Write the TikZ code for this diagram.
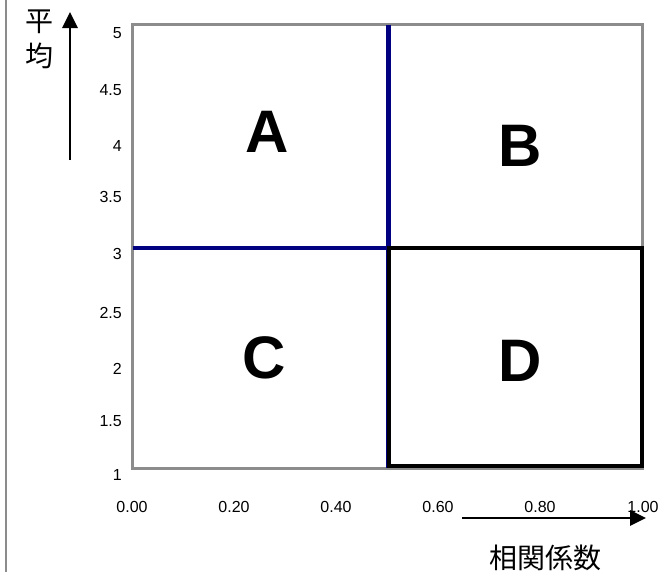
\documentclass[tikz,border=0pt]{standalone}
\usepackage{fontspec}
\setmainfont{Liberation Sans}
\newfontfamily\jafont{Noto Sans CJK JP}
\usepackage{tikz}
\usetikzlibrary{arrows.meta}
\definecolor{frame}{HTML}{8C8C8C}
\definecolor{divline}{HTML}{000080}
\definecolor{cellline}{HTML}{000000}
\tikzset{
  frm/.style={draw=frame, line width=3pt},
  edge/.style={draw=frame, line width=2pt},
  div/.style={draw=divline, line width=4.5pt},
  cell/.style={draw=cellline, line width=4pt},
  tick/.style={font=\fontsize{16}{18}\selectfont, inner sep=0pt},
  big/.style={font=\fontsize{60}{60}\selectfont\bfseries, inner sep=0pt},
  axis/.style={draw=black, line width=2.7pt, -{Triangle[length=16pt,width=15pt]}},
  ja/.style={font=\jafont\fontsize{28}{35}\selectfont, align=center, inner sep=0pt},
}

\begin{document}
\begin{tikzpicture}[x=1pt,y=-1pt]
  \useasboundingbox (0,0) rectangle (670,573);
  \coordinate (SW) at (132.5,468);
  \coordinate (NE) at (642.5,24.5);
  \coordinate (M) at (388.5,248);

  \draw[edge] (6,0) -- (6,572);

  % plot frame and dividers
  \draw[frm] (SW) rectangle (NE);
  \draw[div] (M |- NE) -- (M |- SW);
  \draw[div] (M -| SW) -- (M -| NE);
  \draw[cell] (M) rectangle (641.5,465.5);

  \node[big] (A) at (267,132) {A};
  \node[big] (B) at (520,146) {B};
  \node[big] (C) at (264,358) {C};
  \node[big] (D) at (520,361) {D};

  \foreach \v/\y [count=\i] in {5/33,4.5/90,4/146,3.5/197,3/254,2.5/313,2/369,1.5/421,1/475}
    \node[tick,anchor=east] (yt\i) at (122,\y) {\v};
  \foreach \v/\x [count=\i] in {0.00/132,0.20/234,0.40/336,0.60/438,0.80/540,1.00/643}
    \node[tick] (xt\i) at (\x,507) {\v};

  % axis arrows
  \coordinate (ylo) at (70,160);
  \coordinate (yhi) at (70,12);
  \draw[axis] (ylo) -- (yhi);
  \coordinate (xlo) at (462,518);
  \coordinate (xhi) at (646,518);
  \draw[axis] (xlo) -- (xhi);

  \node[ja] (ylab) at (39,39.5) {平\\均};
  \node[ja] (xlab) at (545,558) {相関係数};
\end{tikzpicture}
\end{document}
